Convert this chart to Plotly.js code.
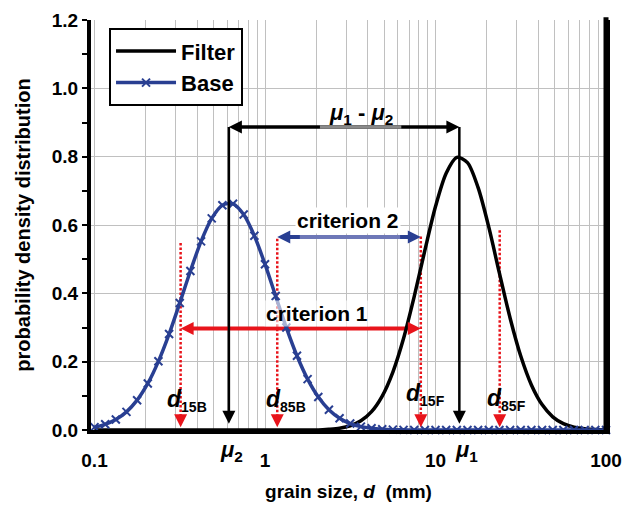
<!DOCTYPE html>
<html><head><meta charset="utf-8">
<script src="https://cdn.plot.ly/plotly-3.0.1.min.js"></script>
<style>html,body{margin:0;padding:0;background:#fff}#chart{width:624px;height:505px}</style>
</head><body><div id="chart"></div>
<script>
// ---- data ----
const grainSize = [0.1, 0.1155, 0.1334, 0.154, 0.1778, 0.2054, 0.2371, 0.2738, 0.3162, 0.3652,
  0.4217, 0.487, 0.5623, 0.6494, 0.7499, 0.866, 1, 1.155, 1.334, 1.54,
  1.778, 2.054, 2.371, 2.738, 3.162, 3.652, 4.217, 4.87, 5.623, 6.494,
  7.499, 8.66, 10, 11.55, 13.34, 15.4, 17.78, 20.54, 23.71, 27.38,
  31.62, 36.52, 42.17, 48.7, 56.23, 64.94, 74.99, 86.6, 100];
const filterDensity = [0, 0, 0, 0, 0, 0, 0, 0, 0, 0,
  0, 0, 0, 0, 0, 0, 0, 0, 0, 0,
  0, 0, 0.0021, 0.0053, 0.0124, 0.0268, 0.0537, 0.0993, 0.1697, 0.2677,
  0.3903, 0.5255, 0.6539, 0.7515, 0.7979, 0.7826, 0.7092, 0.5936, 0.459, 0.3279,
  0.2164, 0.1319, 0.0743, 0.0386, 0.0186, 0.0082, 0.0034, 0.0013, 0.0005];
const baseDensity = [0.0085, 0.0166, 0.0305, 0.053, 0.0873, 0.1362, 0.201, 0.2808, 0.3717, 0.4655,
  0.552, 0.6195, 0.658, 0.662, 0.6306, 0.5685, 0.4853, 0.392, 0.2998, 0.2172,
  0.1489, 0.0966, 0.0594, 0.0345, 0.019, 0.0099, 0.0049, 0.0023, 0.001, 0.0004,
  0.0002, 0, 0, 0, 0, 0, 0, 0, 0, 0,
  0, 0, 0, 0, 0, 0, 0, 0, 0];
const seriesNames = ['Filter', 'Base'];
const xTickVals = [0.1,0.2,0.3,0.4,0.5,0.6,0.7,0.8,0.9,1,2,3,4,5,6,7,8,9,10,20,30,40,50,60,70,80,90,100];
const xTickText = ['0.1','','','','','','','','','1','','','','','','','','','10','','','','','','','','','100'];
// characteristic grain sizes (mm)
const mu1 = 13.8, mu2 = 0.614;
const d15B = 0.32, d85B = 1.18, d15F = 8.2, d85F = 23.8;
const dSizes = [d15B, d85B, d15F, d85F];
const dNames = ['15B', '85B', '15F', '85F'];
// density levels of the guide arrows / lines
const muLevel = 0.887, crit2Level = 0.565, crit1Level = 0.297;
const dottedTops = [0.547, 0.56, 0.566, 0.585];
const muTip = 0.018, dTip = 0.008;

// ---- styles ----
const BLUE = '#293F92', LIGHTBLUE = '#6E78B8', RED = '#E8141B', GRAY = '#8A8A8A';
const FONT = 'Liberation Sans, Arial, sans-serif';
const k = 1.14;      // shaft shortening so heads cover the end
const kv = 0.035;    // vertical head length (data units)

const traces = [];
traces.push({x:[d15B*k, d15F/k], y:[crit1Level, crit1Level], mode:'lines', line:{color:RED, width:4}, showlegend:false, hoverinfo:'skip'});
traces.push({x:[d85B*k, d15F/k], y:[crit2Level, crit2Level], mode:'lines', line:{color:BLUE, width:4}, showlegend:false, hoverinfo:'skip'});
traces.push({x:[1.6, 6.2], y:[crit2Level, crit2Level], mode:'lines', line:{color:LIGHTBLUE, width:4}, showlegend:false, hoverinfo:'skip'});
const dotX = [], dotY = [];
dSizes.forEach((d,i)=>{ dotX.push(d, d, null); dotY.push(dottedTops[i], dTip + kv, null); });
traces.push({x:dotX, y:dotY, mode:'lines', line:{color:RED, width:2.5, dash:'2.5px,2px'}, showlegend:false, hoverinfo:'skip'});

traces.push({x:grainSize, y:filterDensity, name:seriesNames[0], legendgroup:'f', mode:'lines',
  line:{color:'#000', width:3.5, shape:'spline', smoothing:0.8}, cliponaxis:false});
traces.push({x:grainSize, y:baseDensity, name:seriesNames[1], legendgroup:'b', mode:'lines+markers',
  line:{color:BLUE, width:3.5, shape:'spline', smoothing:0.8},
  marker:{symbol:'x-thin', size:8, color:BLUE, line:{color:BLUE, width:2}}, cliponaxis:false});

traces.push({x:[mu2*k, mu1/k], y:[muLevel, muLevel], mode:'lines', line:{color:'#000', width:3.5}, showlegend:false, hoverinfo:'skip'});
traces.push({x:[2.1, 6.3], y:[muLevel, muLevel], mode:'lines', line:{color:GRAY, width:3.5}, showlegend:false, hoverinfo:'skip'});
traces.push({x:[mu2, mu2, null, mu1, mu1], y:[muLevel, muTip+kv, null, muLevel, muTip+kv], mode:'lines', line:{color:'#000', width:2.5}, showlegend:false, hoverinfo:'skip'});

traces.push({x:[mu2, mu1, mu2, mu1], y:[muLevel, muLevel, muTip, muTip], mode:'markers',
  marker:{symbol:['arrow-left','arrow-right','arrow-down','arrow-down'], size:13, color:'#000', line:{width:0}},
  showlegend:false, hoverinfo:'skip', cliponaxis:false});
traces.push({x:[d15B, d15F].concat(dSizes), y:[crit1Level, crit1Level].concat(dSizes.map(()=>dTip)), mode:'markers',
  marker:{symbol:['arrow-left','arrow-right','arrow-down','arrow-down','arrow-down','arrow-down'], size:13, color:RED, line:{width:0}},
  showlegend:false, hoverinfo:'skip', cliponaxis:false});
traces.push({x:[d85B, d15F], y:[crit2Level, crit2Level], mode:'markers',
  marker:{symbol:['arrow-left','arrow-right'], size:13, color:BLUE, line:{width:0}},
  showlegend:false, hoverinfo:'skip', cliponaxis:false});

const L = Math.log10;
const annFont = {family:FONT, size:21, color:'#000', weight:'bold'};
const muFont = {family:FONT, size:22, color:'#000', weight:'bold'};
const annotations = [
  {x:L(3.64), y:0.925, xref:'x', yref:'y', showarrow:false, font:muFont,
   text:'<i>μ</i><sub>1</sub> - <i>μ</i><sub>2</sub>'},
  {x:L(3.06), y:0.612, xref:'x', yref:'y', showarrow:false, font:annFont, bgcolor:'#fff',
   text:'criterion 2'},
  {x:L(2.01), y:0.34, xref:'x', yref:'y', showarrow:false, font:annFont, bgcolor:'rgba(255,255,255,0.6)',
   text:'criterion 1'},
  {x:L(0.64), y:-0.052, xref:'x', yref:'paper', yanchor:'middle', showarrow:false, font:muFont,
   text:'<i>μ</i><sub>2</sub>'},
  {x:L(15.3), y:-0.052, xref:'x', yref:'paper', yanchor:'middle', showarrow:false, font:muFont,
   text:'<i>μ</i><sub>1</sub>'}
];
const dLabelX = [0.35, 1.32, 8.75, 26.1];
const dLabelY = [0.085, 0.085, 0.105, 0.09];
dNames.forEach((n,i)=>{
  annotations.push({x:L(dLabelX[i]), y:dLabelY[i], xref:'x', yref:'y', showarrow:false,
    font:{family:FONT, size:23, color:'#000', weight:'bold'},
    text:'<i>d</i><sub><span style="font-size:14px">'+n+'</span></sub>'});
});

const layout = {
  width:624, height:505,
  margin:{l:91, r:18, t:20, b:75},
  paper_bgcolor:'#fff', plot_bgcolor:'#fff',
  font:{family:FONT, color:'#000'},
  showlegend:true,
  legend:{x:0.035, y:0.98, xanchor:'left', yanchor:'top', bgcolor:'#fff', bordercolor:'#000', borderwidth:2,
    font:{family:FONT, size:22, weight:'bold', color:'#000'}, itemwidth:60, tracegroupgap:4, traceorder:'normal'},
  xaxis:{type:'log', range:[-1.0205, 2.0], tickvals:xTickVals, ticktext:xTickText,
    tickfont:{family:FONT, size:19, weight:'bold', color:'#000'}, ticklabelstandoff:10,
    showgrid:true, gridcolor:'#c0c0c0', gridwidth:1, showline:true, linecolor:'#000', linewidth:4,
    ticks:'', zeroline:false,
    title:{text:'grain size, <i>d</i>\u00a0 (mm)', font:{family:FONT, size:19, weight:'bold', color:'#000'}, standoff:16}},
  yaxis:{range:[0,1.2], tick0:0, dtick:0.2, tickformat:'.1f',
    tickfont:{family:FONT, size:19, weight:'bold', color:'#000'},
    ticks:'outside', ticklen:5, tickwidth:2, tickcolor:'#000',
    minor:{dtick:0.1, ticks:'outside', ticklen:5, tickwidth:2, tickcolor:'#000', showgrid:false},
    showgrid:true, gridcolor:'#c0c0c0', gridwidth:1, showline:true, mirror:true, linecolor:'#000', linewidth:4,
    zeroline:false,
    title:{text:'probability density distribution', font:{family:FONT, size:20, weight:'bold', color:'#000'}, standoff:17}},
  shapes:[{type:'line', xref:'paper', yref:'paper', x0:1, x1:1, y0:0, y1:1.007, line:{color:'#000', width:5}}],
  annotations:annotations
};
Plotly.newPlot('chart', traces, layout, {staticPlot:true, displayModeBar:false});
</script>
</body></html>
